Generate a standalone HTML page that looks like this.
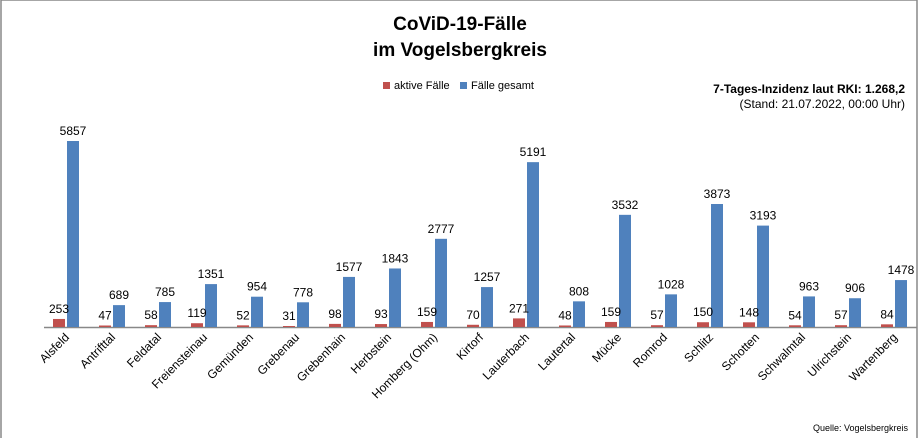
<!DOCTYPE html>
<html><head><meta charset="utf-8"><style>
body{margin:0;background:#fff;}
svg{display:block;font-family:"Liberation Sans",sans-serif;}
</style></head><body>
<svg id="c" width="920" height="438" viewBox="0 0 920 438">
<rect x="1" y="0" width="916" height="440" fill="#fff" stroke="#888" stroke-width="1.5"/>
<text x="460" y="30" text-anchor="middle" font-size="19" font-weight="bold">CoViD-19-Fälle</text>
<text x="460" y="56" text-anchor="middle" font-size="19" font-weight="bold">im Vogelsbergkreis</text>
<g>
<rect x="383" y="82" width="7" height="7" fill="#c0504d"/>
<text x="394" y="89" font-size="11">aktive Fälle</text>
<rect x="460" y="82" width="7" height="7" fill="#4f81bd"/>
<text x="471" y="89" font-size="11">Fälle gesamt</text>
</g>
<text x="905" y="93" text-anchor="end" font-size="12" font-weight="bold">7-Tages-Inzidenz laut RKI: 1.268,2</text>
<text x="905" y="108" text-anchor="end" font-size="12">(Stand: 21.07.2022, 00:00 Uhr)</text>
<line x1="44" y1="327.5" x2="917" y2="327.5" stroke="#888" stroke-width="1.5"/>
<g id="bars"></g>
<text x="908" y="431" text-anchor="end" font-size="9">Quelle: Vogelsbergkreis</text>
</svg>
<script>
const categories=["Alsfeld","Antrifttal","Feldatal","Freiensteinau","Gemünden","Grebenau","Grebenhain","Herbstein","Homberg (Ohm)","Kirtorf","Lauterbach","Lautertal","Mücke","Romrod","Schlitz","Schotten","Schwalmtal","Ulrichstein","Wartenberg"];
const activeCases=[253,47,58,119,52,31,98,93,159,70,271,48,159,57,150,148,54,57,84];
const totalCases=[5857,689,785,1351,954,778,1577,1843,2777,1257,5191,808,3532,1028,3873,3193,963,906,1478];
const NS="http://www.w3.org/2000/svg";
const g=document.getElementById('bars');
const x0=43,pw=874,base=327,scale=186/5857;
const n=categories.length,gw=pw/n;
function xc(i){return x0+gw*(i+0.5);}
function y(v){return base-v*scale;}
function mk(t,a){const e=document.createElementNS(NS,t);for(const k in a)e.setAttribute(k,a[k]);g.appendChild(e);return e;}
categories.forEach((c,i)=>{
  const cx=xc(i);
  const r=mk('rect',{x:cx-13,y:y(activeCases[i]),width:12,height:base-y(activeCases[i]),fill:'#c0504d'});
  
  
  const b=mk('rect',{x:cx+1,y:y(totalCases[i]),width:12,height:base-y(totalCases[i]),fill:'#4f81bd'});
  
  
  const ta=mk('text',{x:cx-7,y:y(activeCases[i])-6,'text-anchor':'middle','font-size':12});
  ta.textContent=activeCases[i];
  
  
  const tb=mk('text',{x:cx+7,y:y(totalCases[i])-6,'text-anchor':'middle','font-size':12});
  tb.textContent=totalCases[i];
  
  
  const tl=mk('text',{x:cx+4,y:338,'text-anchor':'end','font-size':12,transform:`rotate(-45 ${cx+4} 338)`});
  tl.textContent=c;
  
  
});
</script>
</body></html>
